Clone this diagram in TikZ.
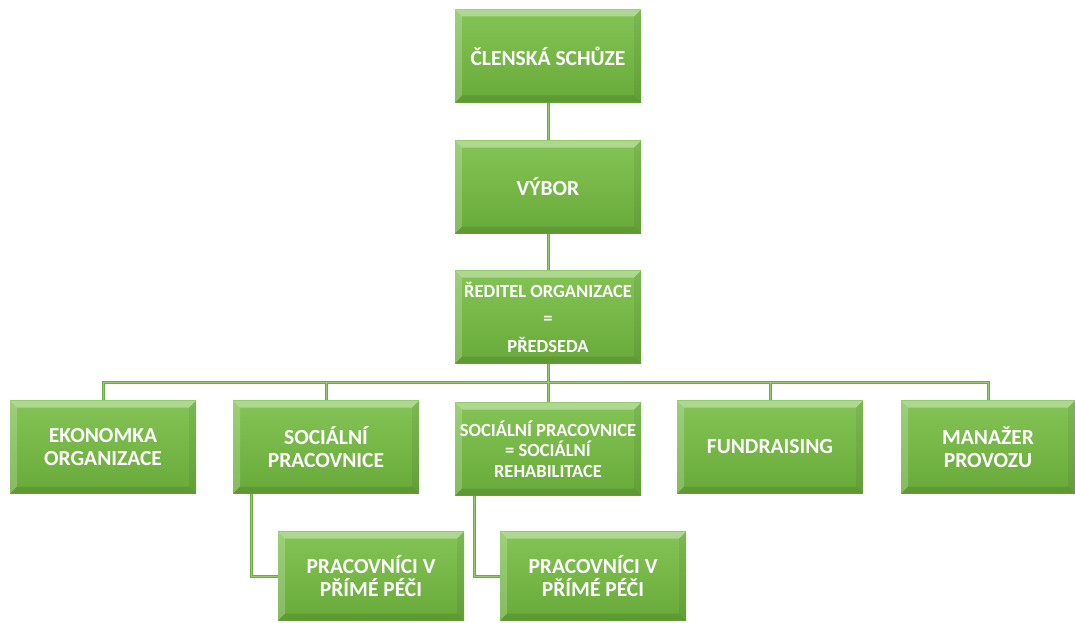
\documentclass[tikz,border=0pt]{standalone}
\usepackage{fontspec}
\setmainfont{Carlito}
\definecolor{gtop}{RGB}{132,196,86}
\definecolor{gbot}{RGB}{104,170,58}
\definecolor{gline}{RGB}{112,170,72}
\definecolor{glinel}{RGB}{150,202,112}
\tikzset{
  box/.style={top color=gtop, bottom color=gbot, draw=none,
    minimum width=186pt, minimum height=93pt, inner sep=1pt,
    text=white, align=center, font=\bfseries\fontsize{21.5}{23}\selectfont,
    path picture={
      \fill[white,opacity=0.35] (path picture bounding box.north west) -- (path picture bounding box.north east)
        -- ([shift={(-7pt,-7pt)}]path picture bounding box.north east) -- ([shift={(7pt,-7pt)}]path picture bounding box.north west) -- cycle;
      \fill[white,opacity=0.2] (path picture bounding box.north west) -- (path picture bounding box.south west)
        -- ([shift={(7pt,7pt)}]path picture bounding box.south west) -- ([shift={(7pt,-7pt)}]path picture bounding box.north west) -- cycle;
      \fill[black,opacity=0.06] (path picture bounding box.north east) -- (path picture bounding box.south east)
        -- ([shift={(-7pt,7pt)}]path picture bounding box.south east) -- ([shift={(-7pt,-7pt)}]path picture bounding box.north east) -- cycle;
      \fill[black,opacity=0.1] (path picture bounding box.south west) -- (path picture bounding box.south east)
        -- ([shift={(-7pt,7pt)}]path picture bounding box.south east) -- ([shift={(7pt,7pt)}]path picture bounding box.south west) -- cycle;
    }},
  small/.style={font=\bfseries\fontsize{18.5}{20.5}\selectfont},
  conn/.style={draw=gline, line width=3pt},
  connl/.style={draw=glinel, line width=1pt},
}
\begin{document}
\begin{tikzpicture}[x=1pt,y=-1pt]
\useasboundingbox (0,0) rectangle (1075,623);
\coordinate (bus) at (548,382);
% nodes
\node[box] (c1) at (548,56) {ČLENSKÁ SCHŮZE};
\node[box] (c2) at (548,187) {VÝBOR};
\node[box,small] (c3) at (548,317) {ŘEDITEL ORGANIZACE\\[7pt]=\\[7pt]PŘEDSEDA};
\node[box] (e1) at (103,447) {EKONOMKA\\ORGANIZACE};
\node[box] (e2) at (326,447) {SOCIÁLNÍ\\PRACOVNICE};
\node[box,small] (e3) at (548,449) {SOCIÁLNÍ PRACOVNICE\\= SOCIÁLNÍ\\REHABILITACE};
\node[box] (e4) at (770,447) {FUNDRAISING};
\node[box,minimum width=174pt] (e5) at (988,447) {MANAŽER\\PROVOZU};
\node[box,minimum height=89pt] (p1) at (371,576) {PRACOVNÍCI V\\PŘÍMÉ PÉČI};
\node[box,minimum height=89pt] (p2) at (593,576) {PRACOVNÍCI V\\PŘÍMÉ PÉČI};
% connectors
\foreach \s in {conn,connl}{
  \path[\s] (c1.south) -- (c2.north);
  \path[\s] (c2.south) -- (c3.north);
  \path[\s] (c3.south) -- (e3.north);
  \path[\s] (e1.north) |- (bus) -| (e5.north);
  \path[\s] (e2.north) |- (bus);
  \path[\s] (e4.north) |- (bus);
  \path[\s] ([xshift=19pt]e2.south west) |- (p1.west);
  \path[\s] ([xshift=20pt]e3.south west) |- (p2.west);
}
\end{tikzpicture}
\end{document}
